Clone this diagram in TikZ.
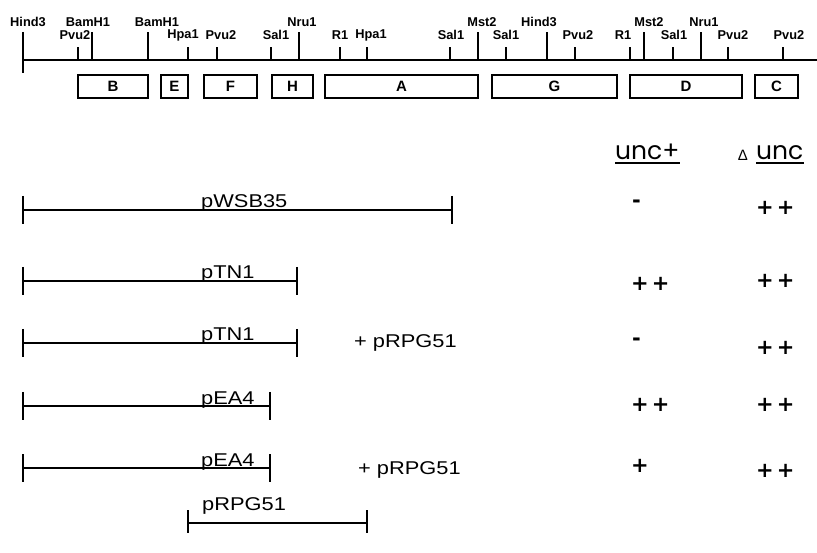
\documentclass[tikz,border=0pt]{standalone}
\usepackage{fontspec}
\setmainfont{Liberation Sans}
\newfontfamily\rowf[FakeStretch=1.18]{Liberation Sans}
\newfontfamily\hdrf{Poppins}
\newfontfamily\symf{DejaVu Sans}
\begin{document}
\begin{tikzpicture}[x=1pt,y=-1pt,
  maplab/.style={font=\bfseries\fontsize{12.8}{14}\selectfont, inner sep=0pt},
  frag/.style={draw, line width=1.5pt, inner sep=0pt, minimum height=23pt,
    font=\bfseries\fontsize{15}{17}\selectfont},
  sitetick/.style={line width=1.6pt},
  bar/.style={line width=2pt},
  endtick/.style={line width=1.6pt},
  rowlab/.style={font=\rowf\fontsize{18.5}{21}\selectfont, inner sep=0pt, anchor=base west},
  sym/.style={font=\symf\bfseries\fontsize{21}{23}\selectfont, inner sep=0pt, anchor=west},
  hdr/.style={font=\hdrf\fontsize{25}{28}\selectfont, inner sep=0pt, anchor=base west},
  uline/.style={line width=1.8pt}]
\useasboundingbox (0,0) rectangle (817,553);

% ---------- restriction map ----------
\coordinate (mapL) at (23,60);
\coordinate (mapR) at (817,60);
\draw[line width=2.5pt] (mapL) -- (mapR);
\coordinate (hindTop) at (23,32);
\coordinate (hindBot) at (23,73);
\draw[sitetick] (hindTop) -- (hindBot);
\node[maplab] (lHind3a) at (28,22) {Hind3};

\foreach \n/\x/\ty/\lx/\ly/\t in {
  pv1/78/47/75/35/Pvu2,
  bm1/92/32/88/22/BamH1,
  bm2/148/32/157/22/BamH1,
  hp1/188/47/183/35/Hpa1,
  pv2/217/47/221/35/Pvu2,
  sl1/271/47/276/35/Sal1,
  nr1/299/32/302/22/Nru1,
  ra1/340/47/340/35/R1,
  hp2/367/47/371/35/Hpa1,
  sl2/450/47/451/35/Sal1,
  ms1/478/32/482/22/Mst2,
  sl3/506/47/506/35/Sal1,
  hd2/547/32/539/22/Hind3,
  pv3/575/47/578/35/Pvu2,
  ra2/630/47/623/35/R1,
  ms2/644/32/649/22/Mst2,
  sl4/673/47/674/35/Sal1,
  nr2/701/32/704/22/Nru1,
  pv4/728/47/733/35/Pvu2,
  pv5/783/47/789/35/Pvu2}
{
  \coordinate (b\n) at (\x,60);
  \coordinate (t\n) at (\x,\ty);
  \draw[sitetick] (b\n) -- (t\n);
  \node[maplab] (l\n) at (\lx,\ly) {\t};
}

% ---------- fragments ----------
\node[frag, minimum width=70pt]  (fB) at (113,86.5) {B};
\node[frag, minimum width=27pt]  (fE) at (174.5,86.5) {E};
\node[frag, minimum width=53pt]  (fF) at (230.5,86.5) {F};
\node[frag, minimum width=41pt]  (fH) at (292.5,86.5) {H};
\node[frag, minimum width=153pt] (fA) at (401.5,86.5) {A};
\node[frag, minimum width=125pt] (fG) at (554.5,86.5) {G};
\node[frag, minimum width=112pt] (fD) at (686,86.5) {D};
\node[frag, minimum width=43pt]  (fC) at (776.5,86.5) {C};

% ---------- header ----------
\node[hdr] (hU) at (615,160) {unc+};
\draw[uline] ([yshift=-3pt]hU.base west) -- ([yshift=-3pt]hU.base east);
\node[font=\fontsize{15}{17}\selectfont, inner sep=0pt] (hD) at (743,155) {Δ};
\node[hdr] (hU2) at (756,160) {unc};
\draw[uline] ([yshift=-3pt]hU2.base west) -- ([yshift=-3pt]hU2.base east);

% ---------- constructs ----------
% row 1
\coordinate (r1L) at (23,210); \coordinate (r1R) at (452,210);
\draw[bar] (r1L) -- (r1R);
\draw[endtick] ([yshift=14pt]r1L) -- ([yshift=-14pt]r1L);
\draw[endtick] ([yshift=14pt]r1R) -- ([yshift=-14pt]r1R);
\node[rowlab] (n1) at (201,208) {pWSB35};
% row 2
\coordinate (r2L) at (23,281); \coordinate (r2R) at (297,281);
\draw[bar] (r2L) -- (r2R);
\draw[endtick] ([yshift=14pt]r2L) -- ([yshift=-14pt]r2L);
\draw[endtick] ([yshift=14pt]r2R) -- ([yshift=-14pt]r2R);
\node[rowlab] (n2) at (201,279) {pTN1};
% row 3
\coordinate (r3L) at (23,343); \coordinate (r3R) at (297,343);
\draw[bar] (r3L) -- (r3R);
\draw[endtick] ([yshift=14pt]r3L) -- ([yshift=-14pt]r3L);
\draw[endtick] ([yshift=14pt]r3R) -- ([yshift=-14pt]r3R);
\node[rowlab] (n3) at (201,341) {pTN1};
\node[rowlab] (p3) at (354,348) {+ pRPG51};
% row 4
\coordinate (r4L) at (23,406); \coordinate (r4R) at (270,406);
\draw[bar] (r4L) -- (r4R);
\draw[endtick] ([yshift=14pt]r4L) -- ([yshift=-14pt]r4L);
\draw[endtick] ([yshift=14pt]r4R) -- ([yshift=-14pt]r4R);
\node[rowlab] (n4) at (201,404) {pEA4};
% row 5
\coordinate (r5L) at (23,468); \coordinate (r5R) at (270,468);
\draw[bar] (r5L) -- (r5R);
\draw[endtick] ([yshift=14pt]r5L) -- ([yshift=-14pt]r5L);
\draw[endtick] ([yshift=14pt]r5R) -- ([yshift=-14pt]r5R);
\node[rowlab] (n5) at (201,466) {pEA4};
\node[rowlab] (p5) at (358,474) {+ pRPG51};
% row 6
\coordinate (r6L) at (188,523); \coordinate (r6R) at (367,523);
\draw[bar] (r6L) -- (r6R);
\draw[endtick] ([yshift=13pt]r6L) -- ([yshift=-10pt]r6L);
\draw[endtick] ([yshift=13pt]r6R) -- ([yshift=-10pt]r6R);
\node[rowlab] (n6) at (202,510) {pRPG51};

% ---------- results ----------
\node[sym] (a1) at (632,204) {-};
\node[sym] (b1) at (756,208) {+\hspace{3pt}+};
\node[sym] (a2) at (631,284) {+\hspace{3pt}+};
\node[sym] (b2) at (756,281) {+\hspace{3pt}+};
\node[sym] (a3) at (632,342) {-};
\node[sym] (b3) at (756,348) {+\hspace{3pt}+};
\node[sym] (a4) at (631,405) {+\hspace{3pt}+};
\node[sym] (b4) at (756,405) {+\hspace{3pt}+};
\node[sym] (a5) at (631,466) {+};
\node[sym] (b5) at (756,471) {+\hspace{3pt}+};
\end{tikzpicture}
\end{document}
